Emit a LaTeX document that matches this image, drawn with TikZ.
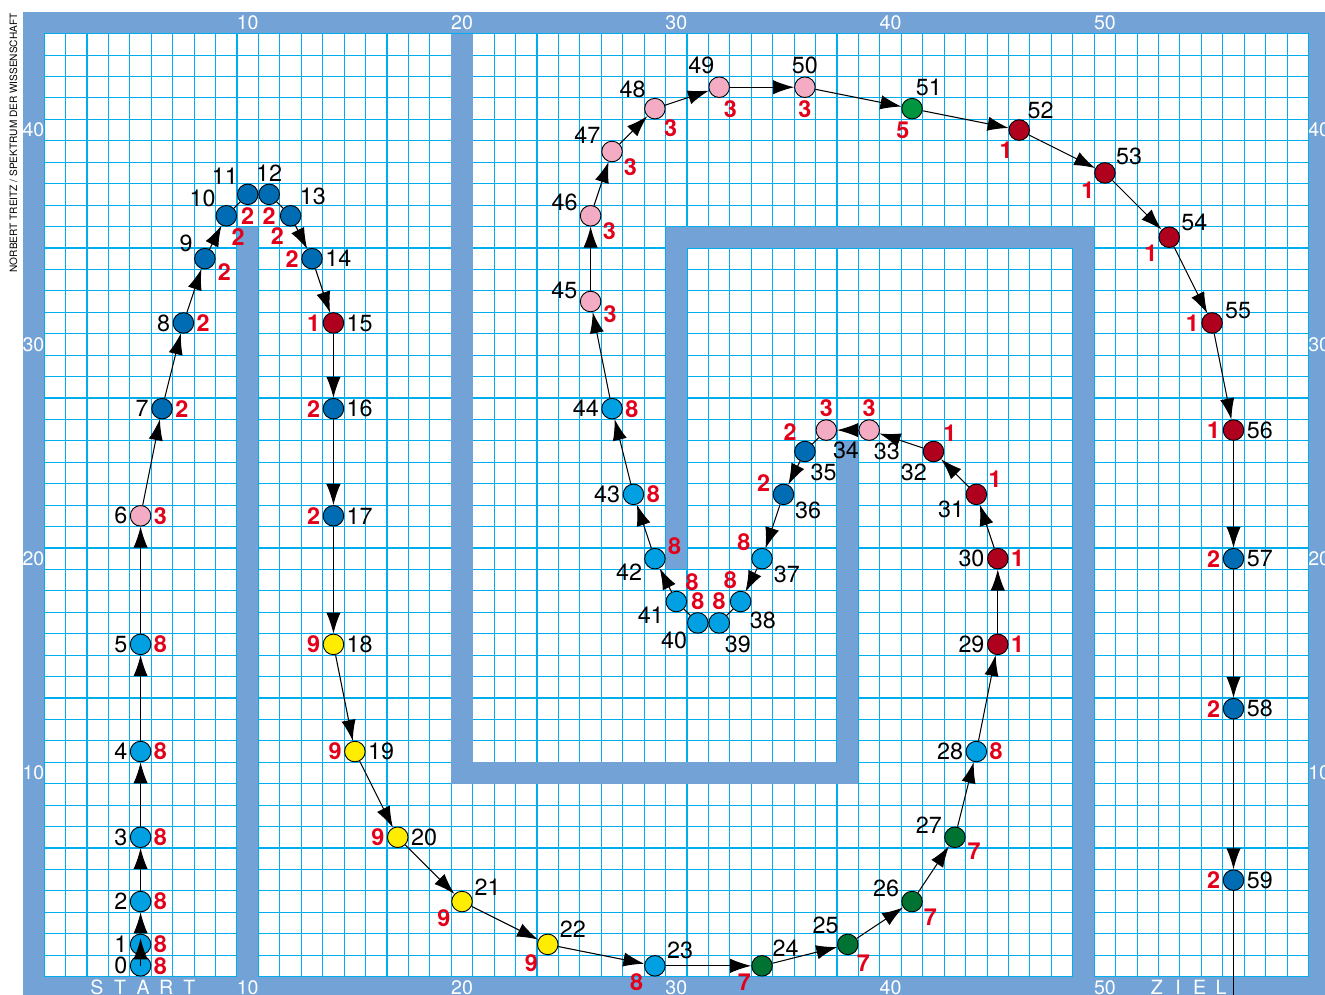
\documentclass[tikz,border=0pt]{standalone}
\usepackage{fontspec}
\setmainfont{TeX Gyre Heros}
\usetikzlibrary{arrows.meta}
\definecolor{wallblue}{RGB}{115,163,214}
\definecolor{gridcyan}{RGB}{0,174,239}
\definecolor{lb}{RGB}{0,160,227}
\definecolor{db}{RGB}{0,108,180}
\definecolor{pk}{RGB}{244,172,196}
\definecolor{ye}{RGB}{255,237,0}
\definecolor{gn}{RGB}{0,115,50}
\definecolor{lg}{RGB}{0,150,64}
\definecolor{rd}{RGB}{175,0,30}
\definecolor{gearred}{RGB}{226,0,26}
\newcommand{\lsp}[2]{\makebox[#1]{#2}}

\begin{document}
\begin{tikzpicture}[x=0.5cm,y=0.5cm,
  zug/.style={circle,draw,line width=0.6pt,fill=#1,minimum size=0.48cm,inner sep=0pt},
  nr/.style={font=\fontsize{15.5}{18}\selectfont,inner sep=1pt,text=black},
  gang/.style={font=\fontsize{15.5}{18}\selectfont\bfseries,inner sep=1pt,text=gearred},
  axis/.style={font=\fontsize{13}{15}\selectfont,text=white,inner sep=0pt},
  arr/.style={-{Latex[length=14pt,width=9.5pt]},line width=0.7pt},
  link/.style={line width=0.7pt},
  nolink/.style={draw=none},
  wall/.style={fill=wallblue},
  gridline/.style={gridcyan,line width=0.75pt},
  label distance=0.5pt
]
\clip (-1.56,-0.32) rectangle (60.27,46.07);
% track: outer wall, free field, grid
\fill[wall] (-0.5,-1) rectangle (61,45.5);
\fill[white] (0.5,0.5) rectangle (59.5,44.5);
\foreach \i in {0,...,59} \draw[gridline] (\i+0.5,0.5) -- (\i+0.5,44.5);
\foreach \j in {0,...,44} \draw[gridline] (0.5,\j+0.5) -- (59.5,\j+0.5);
% inner walls
\fill[wall] (9.5,0.5) rectangle (10.5,35.5);
\fill[wall] (19.5,9.5) rectangle (20.5,44.5);
\fill[wall] (19.5,9.5) rectangle (38.5,10.5);
\fill[wall] (37.5,9.5) rectangle (38.5,25.5);
\fill[wall] (29.5,19.5) rectangle (30.5,35.5);
\fill[wall] (29.5,34.5) rectangle (49.5,35.5);
\fill[wall] (48.5,0.5) rectangle (49.5,35.5);
% scales
\foreach \v in {10,20,30,40,50} {
  \node[axis] (t\v) at (\v,45) {\v};
  \node[axis] (b\v) at (\v,0) {\v};
}
\foreach \v in {10,20,30,40} {
  \node[axis] (l\v) at (0,\v) {\v};
  \node[axis] (r\v) at (60,\v) {\v};
}
\node[axis] (start) at (5.12,0) {\lsp{0.54cm}{S}\lsp{0.54cm}{T}\lsp{0.54cm}{A}\lsp{0.54cm}{R}\lsp{0.54cm}{T}};
\node[axis] (ziel) at (53.92,0) {\lsp{0.5cm}{Z}\lsp{0.5cm}{I}\lsp{0.5cm}{E}\lsp{0.5cm}{L}};
\node[rotate=90,font=\fontsize{6.7}{8}\selectfont,inner sep=0pt] (credit) at (-0.93,39.4)
  {NORBERT TREITZ / SPEKTRUM DER WISSENSCHAFT};
% moves: number/x/y/colour/gear/number angle/gear angle/incoming link
\foreach \n/\x/\y/\c/\g/\na/\ga/\s in {
  0/5/1/lb/8/180/0/nolink, 1/5/2/lb/8/180/0/nolink, 2/5/4/lb/8/180/0/arr,
  3/5/7/lb/8/180/0/arr, 4/5/11/lb/8/180/0/arr, 5/5/16/lb/8/180/0/arr,
  6/5/22/pk/3/180/0/arr, 7/6/27/db/2/180/0/arr, 8/7/31/db/2/180/0/arr,
  9/8/34/db/2/155/-15/arr, 10/9/36/db/2/140/-72/arr, 11/10/37/db/2/135/-90/link,
  12/11/37/db/2/90/-90/link, 13/12/36/db/2/50/-115/link, 14/13/34/db/2/0/180/arr,
  15/14/31/rd/1/0/180/arr, 16/14/27/db/2/0/180/arr, 17/14/22/db/2/0/180/arr,
  18/14/16/ye/9/0/180/arr, 19/15/11/ye/9/0/180/arr, 20/17/7/ye/9/0/180/arr,
  21/20/4/ye/9/20/-150/arr, 22/24/2/ye/9/25/-135/arr, 23/29/1/lb/8/25/-150/arr,
  24/34/1/gn/7/40/-145/arr, 25/38/2/gn/7/130/-50/arr, 26/41/4/gn/7/165/-30/arr,
  27/43/7/gn/7/170/-20/arr, 28/44/11/lb/8/180/0/arr, 29/45/16/rd/1/180/0/arr,
  30/45/20/rd/1/180/0/arr, 31/44/23/rd/1/-155/25/arr, 32/42/25/rd/1/-115/45/arr,
  33/39/26/pk/3/-75/90/arr, 34/37/26/pk/3/-65/90/arr, 35/36/25/db/2/-70/125/link,
  36/35/23/db/2/-30/175/arr, 37/34/20/lb/8/-30/150/arr, 38/33/18/lb/8/-50/100/arr,
  39/32/17/lb/8/-70/90/link, 40/31/17/lb/8/-140/90/link, 41/30/18/lb/8/-160/50/link,
  42/29/20/lb/8/-165/10/arr, 43/28/23/lb/8/180/0/arr, 44/27/27/lb/8/180/0/arr,
  45/26/32/pk/3/175/-10/arr, 46/26/36/pk/3/165/-25/arr, 47/27/39/pk/3/150/-30/arr,
  48/29/41/pk/3/130/-50/arr, 49/32/42/pk/3/105/-75/arr, 50/36/42/pk/3/90/-90/arr,
  51/41/41/lg/5/80/-95/arr, 52/46/40/rd/1/55/-115/arr, 53/50/38/rd/1/35/-140/arr,
  54/53/35/rd/1/25/-150/arr, 55/55/31/rd/1/10/180/arr, 56/56/26/rd/1/0/180/arr,
  57/56/20/db/2/0/180/arr, 58/56/13/db/2/0/180/arr, 59/56/5/db/2/0/180/arr} {
  \node[zug=\c,label={[nr]\na:\n},label={[gang]\ga:\g}] (p\n) at (\x,\y) {};
  \ifnum\n>0 \pgfmathtruncatemacro\m{\n-1}\draw[\s] (p\m) -- (p\n);\fi
}
\draw[arr,shorten >=3pt] (p0.center) -- (p1.north);
\coordinate (ende) at (56,-4);
\draw[arr] (p59) -- (ende);
\end{tikzpicture}
\end{document}
